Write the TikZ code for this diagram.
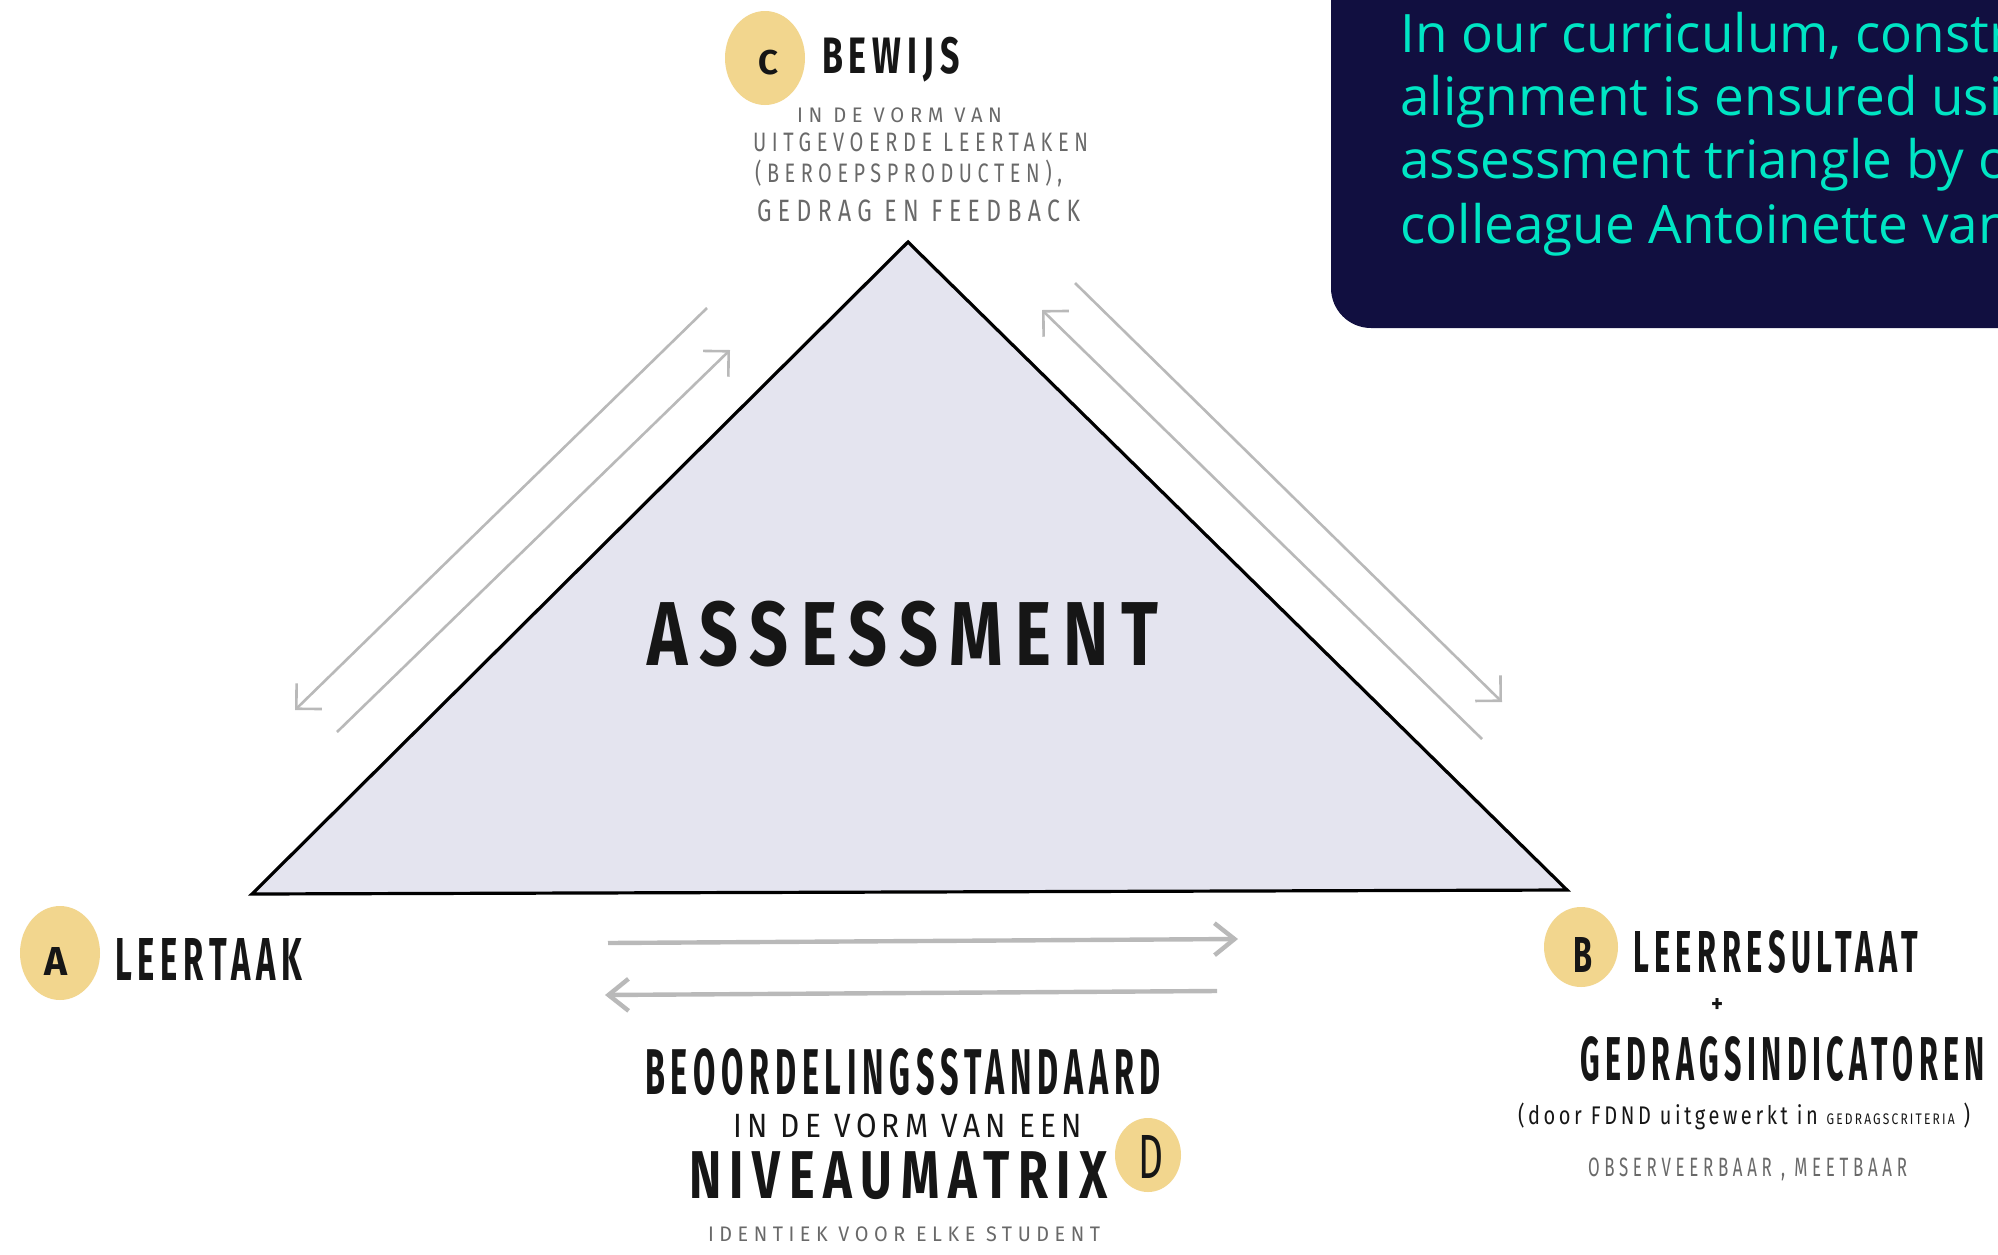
\documentclass[tikz,border=0pt]{standalone}
\usepackage{fontspec}
\usepackage{graphicx}
\setmainfont{Fira Sans}
\newfontfamily\hand{Fira Sans}[LetterSpace=18]
\newfontfamily\handwide{Fira Sans}[LetterSpace=28]
\newfontfamily\boxfont{Open Sans}
\usetikzlibrary{arrows.meta}
\definecolor{navy}{RGB}{17,15,64}
\definecolor{tealtxt}{RGB}{0,229,196}
\definecolor{blob}{RGB}{242,214,142}
\definecolor{trifill}{RGB}{228,228,239}
\definecolor{arrowgrey}{RGB}{185,185,185}
\definecolor{greytxt}{RGB}{105,105,105}
\definecolor{inkblack}{RGB}{22,22,22}
\newdimen\pxu \pxu=0.5pt
\newcommand{\fitt}[3]{\resizebox*{#1\pxu}{#2\pxu}{#3}}
\begin{document}
\begin{tikzpicture}[x=0.5pt,y=-0.5pt,
  lbl/.style={inner sep=0pt, outer sep=0pt, anchor=south west, text=inkblack, font=\hand\bfseries},
  mlbl/.style={inner sep=0pt, outer sep=0pt, anchor=south west, text=inkblack, font=\hand},
  glbl/.style={inner sep=0pt, outer sep=0pt, anchor=south west, text=greytxt, font=\handwide},
  darr/.style={draw=arrowgrey, line width=1.3pt, -{Straight Barb[length=9pt,width=18pt]}},
  harr/.style={draw=arrowgrey, line width=2.2pt, -{Straight Barb[length=10pt,width=16pt]}},
  boxline/.style={inner sep=0pt, anchor=base west, text=tealtxt, font=\boxfont\fontsize{26.5pt}{26.5pt}\selectfont}]
\useasboundingbox (0,0) rectangle (1998,1254);
\clip (0,0) rectangle (1998,1254);
\fill[white] (0,0) rectangle (1998,1254);
% dark text box
\fill[navy, rounded corners=20pt] (1331,-100) rectangle (2100,328);
\node[boxline] (t1) at (1400,52) {In our curriculum, constructive};
\node[boxline] (t2) at (1400,115) {alignment is ensured using the};
\node[boxline] (t3) at (1400,178) {assessment triangle by our};
\node[boxline] (t4) at (1400,243) {colleague Antoinette van};
% triangle
\coordinate (apex) at (908,242);
\coordinate (lv) at (252,894);
\coordinate (rv) at (1567,890);
\filldraw[fill=trifill, draw=black, line width=1.6pt] (apex) -- (lv) -- (rv) -- cycle;
\node[lbl] (assess) at (647,667) {\fitt{511}{66}{ASSESSMENT}};
% arrows
\coordinate (la1) at (707,308); \coordinate (la2) at (295,710);
\draw[darr] (la1) -- (la2);
\coordinate (lb1) at (337,732); \coordinate (lb2) at (730,350);
\draw[darr] (lb1) -- (lb2);
\coordinate (ra1) at (1075,283); \coordinate (ra2) at (1502,702);
\draw[darr] (ra1) -- (ra2);
\coordinate (rb1) at (1482,739); \coordinate (rb2) at (1042,310);
\draw[darr] (rb1) -- (rb2);
\coordinate (ba1) at (608,943); \coordinate (ba2) at (1238,939);
\draw[harr] (ba1) -- (ba2);
\coordinate (bb1) at (1217,991); \coordinate (bb2) at (605,995);
\draw[harr] (bb1) -- (bb2);
% blobs
\fill[blob] (765,58) ellipse [x radius=20pt, y radius=23.5pt];
\fill[blob] (60,953) ellipse [x radius=20pt, y radius=23.5pt];
\fill[blob] (1581,947) ellipse [x radius=18.5pt, y radius=20pt];
\fill[blob] (1148,1155) ellipse [x radius=16.5pt, y radius=18.5pt];
\node[lbl] (cl) at (758,75) {\fitt{20}{25}{C}};
\node[lbl] (al) at (45,975) {\fitt{23}{28}{A}};
\node[lbl] (bl) at (1573,972) {\fitt{19}{35}{B}};
\node[mlbl] (dl) at (1138,1178) {\fitt{25}{43}{D}};
% C texts
\node[lbl] (bewijs) at (822,82) {\fitt{138}{45}{BEWIJS}};
\node[glbl] (c1) at (797,123) {\fitt{205}{15}{IN DE VORM VAN}};
\node[glbl] (c2) at (753,152) {\fitt{335}{19}{UITGEVOERDE LEERTAKEN}};
\node[glbl] (c3) at (755,187) {\fitt{307}{27}{(BEROEPSPRODUCTEN),}};
\node[glbl] (c4) at (757,222) {\fitt{323}{22}{GEDRAG EN FEEDBACK}};
% A text
\node[lbl] (leertaak) at (115,980) {\fitt{187}{42}{LEERTAAK}};
% B texts
\node[lbl] (leerres) at (1633,973) {\fitt{285}{43}{LEERRESULTAAT}};
\node[lbl, anchor=center] (plus) at (1717,1005) {\fitt{12}{14}{+}};
\node[lbl] (gedrag) at (1580,1082) {\fitt{405}{45}{GEDRAGSINDICATOREN}};
\node[mlbl] (door) at (1518,1130) {\fitt{452}{27}{(door FDND uitgewerkt in {\fontsize{6pt}{6pt}\selectfont GEDRAGSCRITERIA} )}};
\node[glbl] (obs) at (1588,1181) {\fitt{319}{23}{OBSERVEERBAAR , MEETBAAR}};
% D texts
\node[lbl] (beoord) at (645,1096) {\fitt{516}{47}{BEOORDELINGSSTANDAARD}};
\node[mlbl] (invorm) at (733,1138) {\fitt{349}{24}{IN DE VORM VAN EEN}};
\node[lbl] (niveau) at (689,1200) {\fitt{419}{48}{NIVEAUMATRIX}};
\node[glbl] (ident) at (708,1242) {\fitt{392}{15}{IDENTIEK VOOR ELKE STUDENT}};
\end{tikzpicture}
\end{document}
